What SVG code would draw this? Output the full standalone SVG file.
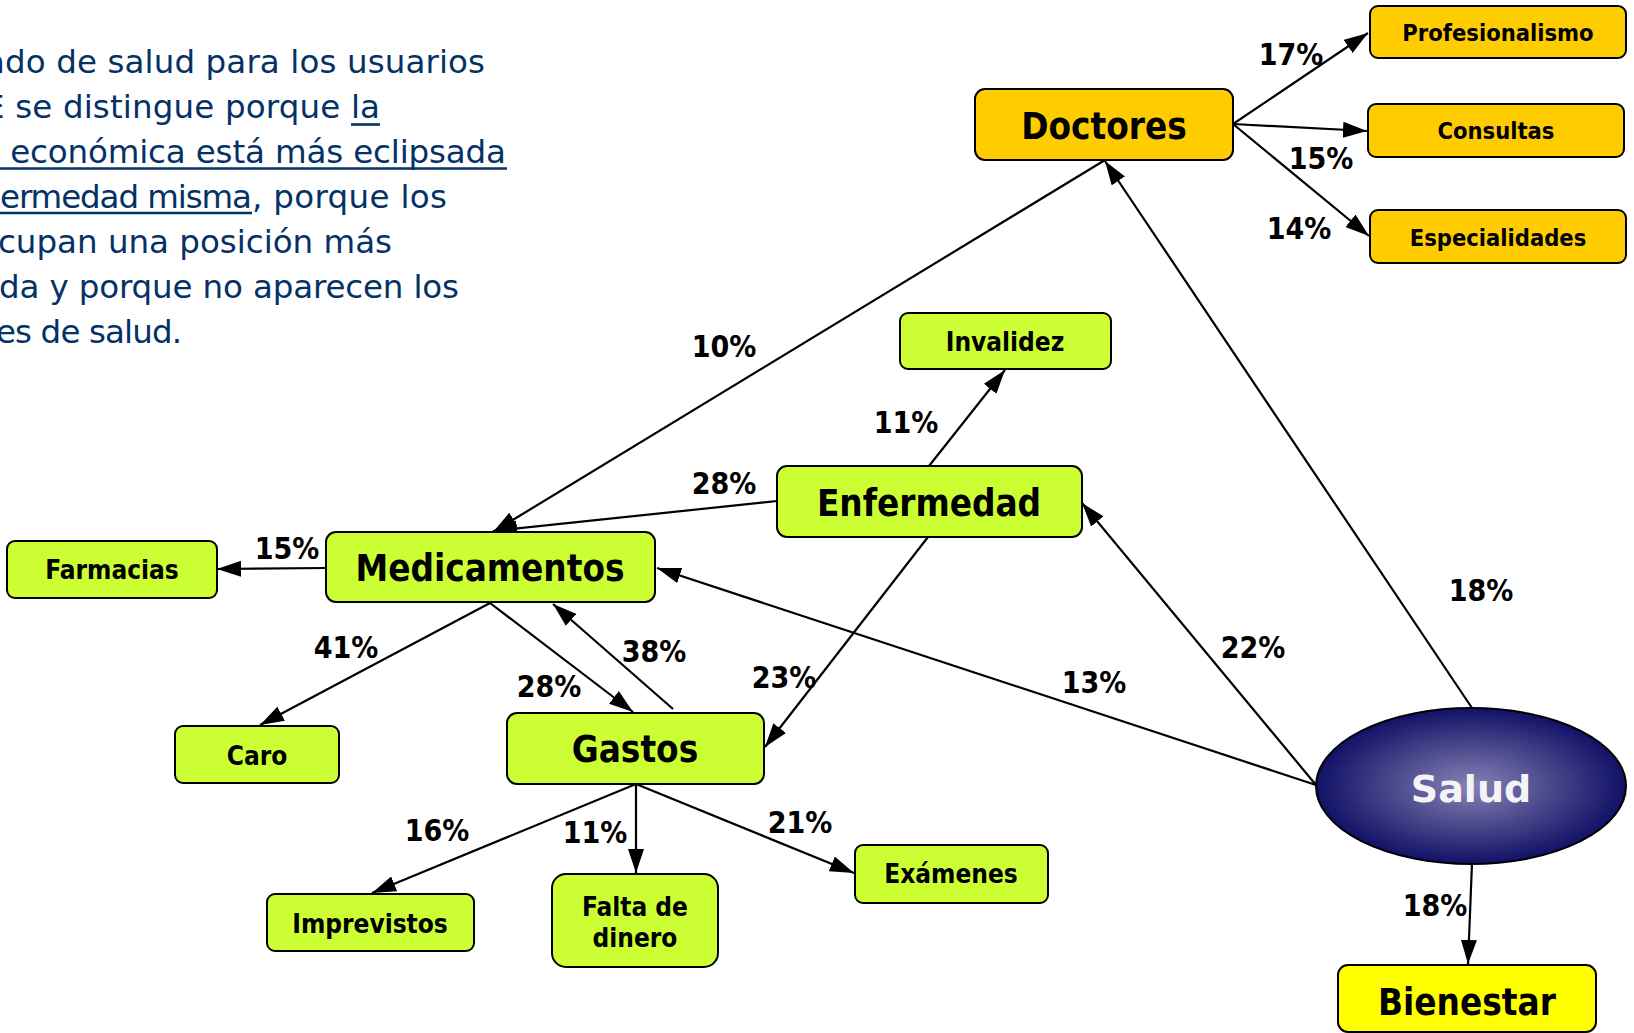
<svg xmlns="http://www.w3.org/2000/svg" width="1634" height="1033" viewBox="0 0 1634 1033">
<defs>
<style>
.body{font-family:"DejaVu Sans",Verdana,sans-serif;font-size:32.5px;fill:#043266}
.ul{stroke:#043266;stroke-width:2.6}
.box{stroke:#000;stroke-width:2}
.o{fill:#FFCC00}.g{fill:#CCFF33}.y{fill:#FFFF00}
.lbl{font-family:"DejaVu Sans Condensed","DejaVu Sans",sans-serif;font-stretch:condensed;font-weight:bold;text-anchor:middle;fill:#000}
.big{font-size:36.5px}
.so{font-size:23.5px}
.sg{font-size:26px}
.pct{font-family:"DejaVu Sans Condensed","DejaVu Sans",sans-serif;font-stretch:condensed;font-weight:bold;font-size:30px;text-anchor:middle;fill:#000}
.e{stroke:#000;stroke-width:2.2;fill:none;marker-end:url(#ah)}
</style>
<marker id="ah" markerUnits="userSpaceOnUse" markerWidth="26" markerHeight="16" refX="24" refY="8" orient="auto" viewBox="0 0 26 16">
<path d="M0,0 L24,8 L0,16 z" fill="#000"/>
</marker>
<radialGradient id="salg" cx="50%" cy="50%" r="50%">
<stop offset="0" stop-color="#8682b6"/>
<stop offset="0.5" stop-color="#4c4a8c"/>
<stop offset="1" stop-color="#111168"/>
</radialGradient>
</defs>
<rect width="1634" height="1033" fill="#fff"/>

<g id="texto">
<text class="body" x="-15" y="73" textLength="500">ado de salud para los usuarios</text>
<text class="body" x="-16" y="118" textLength="396">E se distingue porque la</text>
<text class="body" x="0" y="163" textLength="506">&#160;económica está más eclipsada</text>
<text class="body" x="0" y="208" textLength="252">ermedad misma</text>
<text class="body" x="252" y="208" textLength="195">, porque los</text>
<text class="body" x="-2" y="253" textLength="394">cupan una posición más</text>
<text class="body" x="-1" y="298" textLength="460">da y porque no aparecen los</text>
<text class="body" x="-4" y="343" textLength="186">es de salud.</text>
<line class="ul" x1="351" y1="124.5" x2="380" y2="124.5"/>
<line class="ul" x1="0" y1="168.5" x2="507" y2="168.5"/>
<line class="ul" x1="0" y1="213" x2="252" y2="213"/>
</g>

<g id="connectors">
<line class="e" x1="1233" y1="124" x2="1368" y2="33"/>
<line class="e" x1="1233" y1="124" x2="1367" y2="131"/>
<line class="e" x1="1233" y1="124" x2="1369" y2="236"/>
<line class="e" x1="1105" y1="160" x2="493" y2="532"/>
<line class="e" x1="1472" y1="708" x2="1105" y2="161"/>
<line class="e" x1="929" y1="466" x2="1005" y2="370"/>
<line class="e" x1="777" y1="501" x2="493" y2="531"/>
<line class="e" x1="928" y1="537" x2="765" y2="747"/>
<line class="e" x1="1316" y1="785" x2="1082" y2="503"/>
<line class="e" x1="1316" y1="785" x2="657" y2="568"/>
<line class="e" x1="326" y1="568" x2="217" y2="569"/>
<line class="e" x1="490" y1="603" x2="260" y2="725"/>
<line class="e" x1="490" y1="603" x2="633" y2="712"/>
<line class="e" x1="673" y1="709" x2="553" y2="604"/>
<line class="e" x1="636" y1="784" x2="372" y2="893"/>
<line class="e" x1="636" y1="784" x2="636" y2="873"/>
<line class="e" x1="636" y1="784" x2="854" y2="873"/>
<line class="e" x1="1472" y1="863" x2="1468" y2="964"/>
</g>

<g id="labels">
<text class="pct" x="1291" y="65">17%</text>
<text class="pct" x="1321" y="169">15%</text>
<text class="pct" x="1299" y="239">14%</text>
<text class="pct" x="724" y="357">10%</text>
<text class="pct" x="906" y="433">11%</text>
<text class="pct" x="724" y="494">28%</text>
<text class="pct" x="287" y="559">15%</text>
<text class="pct" x="346" y="658">41%</text>
<text class="pct" x="549" y="697">28%</text>
<text class="pct" x="654" y="662">38%</text>
<text class="pct" x="784" y="688">23%</text>
<text class="pct" x="1094" y="693">13%</text>
<text class="pct" x="1253" y="658">22%</text>
<text class="pct" x="1481" y="601">18%</text>
<text class="pct" x="1435" y="916">18%</text>
<text class="pct" x="437" y="841">16%</text>
<text class="pct" x="595" y="843">11%</text>
<text class="pct" x="800" y="833">21%</text>
</g>

<g id="profesionalismo"><rect class="box o" x="1370" y="6" width="256" height="52" rx="8"/><text class="lbl so" x="1498" y="41">Profesionalismo</text></g>
<g id="consultas"><rect class="box o" x="1368" y="104" width="256" height="53" rx="8"/><text class="lbl so" x="1496" y="139">Consultas</text></g>
<g id="especialidades"><rect class="box o" x="1370" y="210" width="256" height="53" rx="8"/><text class="lbl so" x="1498" y="246">Especialidades</text></g>
<g id="doctores"><rect class="box o" x="975" y="89" width="258" height="71" rx="10"/><text class="lbl big" x="1104" y="139">Doctores</text></g>
<g id="invalidez"><rect class="box g" x="900" y="313" width="211" height="56" rx="8"/><text class="lbl sg" x="1005" y="351">Invalidez</text></g>
<g id="enfermedad"><rect class="box g" x="777" y="466" width="305" height="71" rx="10"/><text class="lbl big" x="929" y="516">Enfermedad</text></g>
<g id="medicamentos"><rect class="box g" x="326" y="532" width="329" height="70" rx="10"/><text class="lbl big" x="490" y="581">Medicamentos</text></g>
<g id="farmacias"><rect class="box g" x="7" y="541" width="210" height="57" rx="8"/><text class="lbl sg" x="112" y="579">Farmacias</text></g>
<g id="caro"><rect class="box g" x="175" y="726" width="164" height="57" rx="8"/><text class="lbl sg" x="257" y="765">Caro</text></g>
<g id="gastos"><rect class="box g" x="507" y="713" width="257" height="71" rx="10"/><text class="lbl big" x="635" y="762">Gastos</text></g>
<g id="imprevistos"><rect class="box g" x="267" y="894" width="207" height="57" rx="8"/><text class="lbl sg" x="370" y="933">Imprevistos</text></g>
<g id="falta"><rect class="box g" x="552" y="874" width="166" height="93" rx="14"/><text class="lbl sg" x="635" y="916">Falta de</text><text class="lbl sg" x="635" y="947">dinero</text></g>
<g id="examenes"><rect class="box g" x="855" y="845" width="193" height="58" rx="8"/><text class="lbl sg" x="951" y="883">Exámenes</text></g>
<g id="salud"><ellipse cx="1471" cy="786" rx="155" ry="78" fill="url(#salg)" stroke="#000" stroke-width="2"/><text x="1471" y="802" font-family="DejaVu Sans, Verdana, sans-serif" font-weight="bold" font-size="38" text-anchor="middle" fill="#f4f4f8">Salud</text></g>
<g id="bienestar"><rect class="box y" x="1338" y="965" width="258" height="67" rx="10"/><text class="lbl big" x="1467" y="1015">Bienestar</text></g>
</svg>
